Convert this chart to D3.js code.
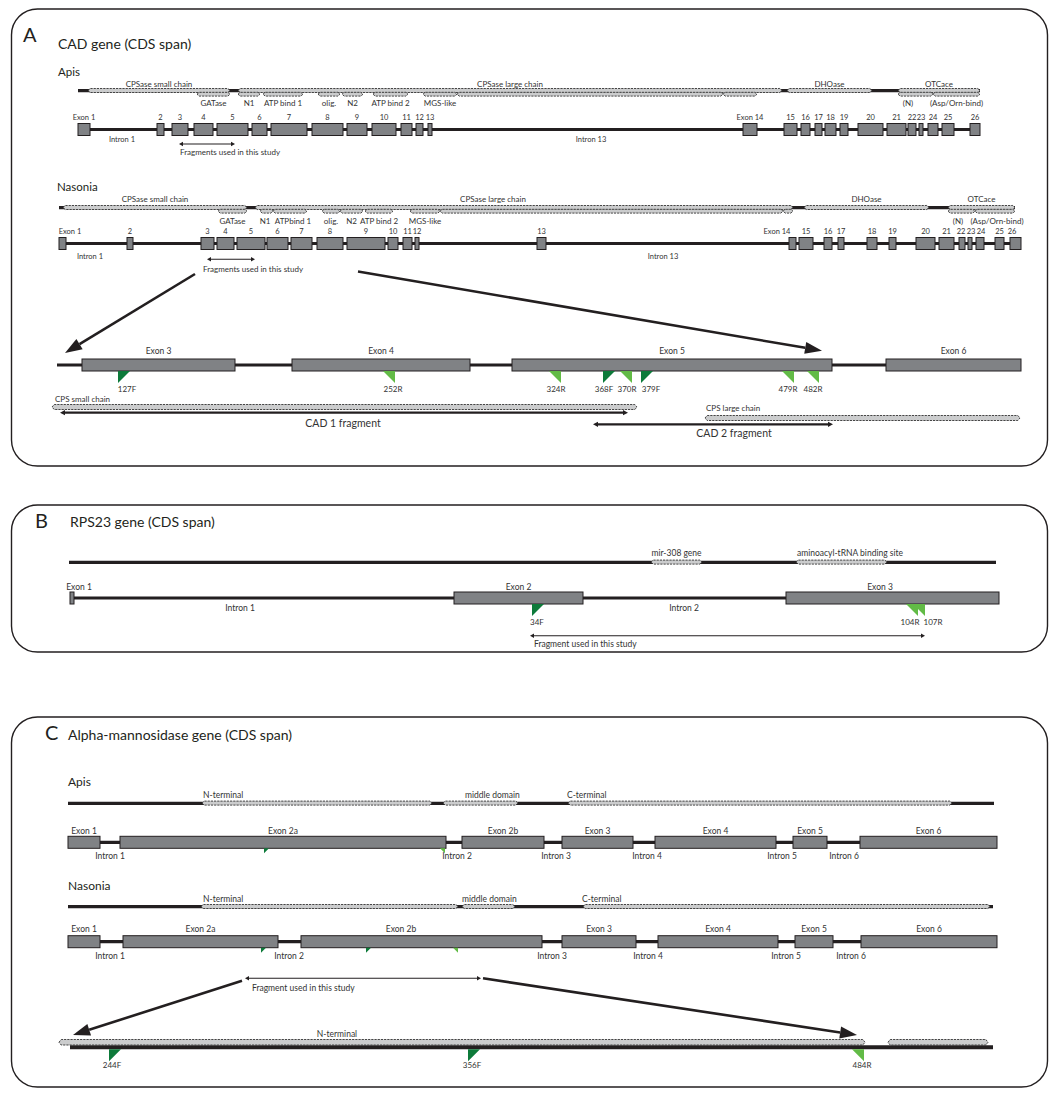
<!DOCTYPE html>
<html>
<head>
<meta charset="utf-8">
<script src="https://cdn.jsdelivr.net/npm/d3@7"></script>
<style>
body { margin: 0; background: #fff; }
svg { display: block; font-family: Lato, "Open Sans", sans-serif; }
</style>
</head>
<body>
<svg id="figura"></svg>
<script>
// all positions are in gene units (0-1000 across the figure)
const panelLetters = ["A", "B", "C"];
const panelTitles = ["CAD gene (CDS span)", "RPS23 gene (CDS span)", "Alpha-mannosidase gene (CDS span)"];
const species = ["Apis", "Nasonia"];
const fragmentText = "Fragments used in this study";
const fragmentTextSingle = "Fragment used in this study";

// A - CAD, Apis
const cadApisSpan = [38, 940];
const cadApisDomains = [["CPSase small chain", 48, 190], ["CPSase large chain", 198, 742], ["DHOase", 747, 832], ["OTCace", 858, 940]];
const cadApisSubdomains = [["GATase", 157, 190], ["N1", 198, 220], ["ATP bind 1", 223, 263], ["olig.", 278, 300], ["N2", 302, 323],
    ["ATP bind 2", 333, 368], ["MGS-like", 383, 417], ["", 417, 683], ["", 683, 717], ["(N)", 858, 893, 868], ["(Asp/Orn-bind)", 893, 940]];
const cadApisExons = [["Exon 1", 38, 50], ["2", 117, 124], ["3", 132, 148], ["4", 154, 173], ["5", 177, 208], ["6", 212, 227],
    ["7", 231, 267], ["8", 272, 303], ["9", 307, 327], ["10", 332, 356], ["11", 361, 372], ["12", 376, 383], ["13", 388, 392],
    ["Exon 14", 703, 717], ["15", 744, 757], ["16", 761, 770], ["17", 775, 782], ["18", 785, 796], ["19", 800, 808],
    ["20", 818, 843], ["21", 847, 866], ["22", 868, 876], ["23", 879, 883], ["24", 888, 898], ["25", 902, 914], ["26", 930, 940]];
const cadApisIntrons = [["Intron 1", 82], ["Intron 13", 551]];
const cadApisFragment = [139, 195, 140];

// A - CAD, Nasonia
const cadNasDomainSpan = [19, 975];
const cadNasSpan = [19, 981];
const cadNasDomains = [["CPSase small chain", 23, 207], ["CPSase large chain", 215, 753, 453], ["DHOase", 764, 889], ["OTCace", 908, 975]];
const cadNasSubdomains = [["GATase", 178, 207], ["N1", 220, 233, 225], ["ATPbind 1", 233, 267, 253], ["olig.", 282, 300], ["N2", 300, 323],
    ["ATP bind 2", 325, 353], ["MGS-like", 370, 400], ["", 400, 743], ["", 743, 753], ["(N)", 908, 935, 918], ["(Asp/Orn-bind)", 935, 975, 957]];
const cadNasExons = [["Exon 1", 19, 26, 30], ["2", 87, 93], ["3", 161, 174], ["4", 177, 194], ["5", 197, 225], ["6", 227, 248],
    ["7", 251, 272], ["8", 277, 303], ["9", 307, 345], ["10", 348, 358], ["11", 363, 372], ["12", 375, 379], ["13", 497, 506],
    ["Exon 14", 749, 756, 737], ["15", 759, 773], ["16", 784, 792], ["17", 798, 804], ["18", 827, 837], ["19", 849, 856],
    ["20", 876, 895], ["21", 899, 914], ["22", 919, 925, 921], ["23", 928, 932, 931], ["24", 936, 944, 941], ["25", 955, 964], ["26", 970, 981, 972]];
const cadNasIntrons = [["Intron 1", 50], ["Intron 13", 623]];
const cadNasFragment = [167, 215, 163];

// A - CAD, zoomed fragment
const cadDetailSpan = [17, 981];
const cadDetailExons = [["Exon 3", 42, 195], ["Exon 4", 252, 430], ["Exon 5", 472, 792], ["Exon 6", 846, 981]];
const cadPrimers = [["127F", 78, "F", 87], ["252R", 355, "R", 353], ["324R", 521, "R", 516], ["368F", 563, "F", 564],
    ["370R", 592, "R", 587], ["379F", 601, "F", 611], ["479R", 754, "R", 748], ["482R", 779, "R", 773]];
const cadProteinParts = [["CPS small chain", 12, 597, 15], ["CPS large chain", 665, 980, 666]];
const cadFragments = [["CAD 1 fragment", 20, 588, 303], ["CAD 2 fragment", 553, 793, 694]];
const cadZoomArrows = [[155, 25], [318, 782]];

// B - RPS23
const rpsDomainSpan = [29, 956];
const rpsDomains = [["mir-308 gene", 611, 662], ["aminoacyl-tRNA binding site", 756, 847, 810]];
const rpsExonSpan = [30, 959];
const rpsExons = [["Exon 1", 30, 34, 39], ["Exon 2", 414, 543], ["Exon 3", 746, 959, 840]];
const rpsIntrons = [["Intron 1", 200], ["Intron 2", 644]];
const rpsPrimers = [["107R", 885, "R", 893], ["104R", 878, "R", 870], ["34F", 492, "F", 497]];
const rpsFragment = [490, 885, 494];

// C - alpha-mannosidase, Apis
const manApisDomainSpan = [28, 954];
const manApisDomains = [["N-terminal", 162, 392, 163], ["middle domain", 403, 478, 425], ["C-terminal", 528, 912, 527]];
const manApisSpan = [28, 957];
const manApisExons = [["Exon 1", 28, 60], ["Exon 2a", 80, 406], ["Exon 2b", 422, 504], ["Exon 3", 522, 593],
    ["Exon 4", 615, 736], ["Exon 5", 753, 787], ["Exon 6", 820, 957]];
const manApisIntrons = [["Intron 1", 70], ["Intron 2", 417], ["Intron 3", 516], ["Intron 4", 607], ["Intron 5", 742], ["Intron 6", 804]];
const manApisPrimers = [["", 224, "F"], ["", 405, "R"]];

// C - alpha-mannosidase, Nasonia
const manNasDomainSpan = [28, 953];
const manNasDomains = [["N-terminal", 161, 418, 163], ["middle domain", 422, 475, 422], ["C-terminal", 543, 950, 542]];
const manNasSpan = [28, 957];
const manNasExons = [["Exon 1", 28, 60], ["Exon 2a", 83, 238], ["Exon 2b", 261, 502, 361], ["Exon 3", 522, 596],
    ["Exon 4", 618, 738], ["Exon 5", 755, 793], ["Exon 6", 821, 957]];
const manNasIntrons = [["Intron 1", 70], ["Intron 2", 249], ["Intron 3", 512], ["Intron 4", 608], ["Intron 5", 746], ["Intron 6", 811]];
const manNasPrimers = [["", 221, "F"], ["", 326, "F"], ["", 418, "R"]];
const manNasFragment = [205, 441, 212];
const manZoomArrows = [[202, 33], [443, 817]];

// C - zoomed fragment
const manDetailSpan = [30, 953];
const manDetailDomains = [["N-terminal", 19, 825, 297], ["", 848, 948]];
const manDetailPrimers = [["244F", 69, "F", 72], ["356F", 428, "F", 432], ["484R", 824, "R", 822]];

const largura = 1058, altura = 1099;
const tinta = "#231f20", corTexto = "#333333";
const cinzaExon = "#808285", cinzaDom = "#cbcccd", traco = "#333333";
const verdeEscuro = "#0d7a3a", verdeClaro = "#62bb46";

let svg = d3.select("#figura")
    .attr("width", largura)
    .attr("height", altura);

let fnX = d3.scaleLinear()
    .domain([0, 1000])
    .range([40, 1040]);

function hexagono(x0, x1, yTop, h) {
    let p = Math.min(2.2, (x1 - x0) / 4);
    return `M${x0},${yTop + h / 2}L${x0 + p},${yTop}L${x1 - p},${yTop}L${x1},${yTop + h / 2}` +
        `L${x1 - p},${yTop + h}L${x0 + p},${yTop + h}Z`;
}

function texto(g, t, x, y, tam, anchor, cor) {
    return g.append("text")
        .attr("x", x)
        .attr("y", y)
        .attr("font-size", tam)
        .attr("text-anchor", anchor || "start")
        .attr("fill", cor || corTexto)
        .text(t);
}

function linha(g, a, b, y, w) {
    g.append("line")
        .attr("x1", fnX(a)).attr("x2", fnX(b))
        .attr("y1", y).attr("y2", y)
        .attr("stroke", tinta)
        .attr("stroke-width", w);
}

function caixas(g, lista, yTop, h) {
    g.selectAll(null)
        .data(lista)
        .enter()
        .append("path")
        .attr("d", d => hexagono(fnX(d.ini), fnX(d.fim), yTop, h))
        .attr("fill", cinzaDom)
        .attr("stroke", traco)
        .attr("stroke-width", 0.9)
        .attr("stroke-dasharray", "2.2,1");
}

function rotulos(g, lista, y, tam, anchor) {
    g.selectAll(null)
        .data(lista.filter(d => d.nome))
        .enter()
        .append("text")
        .attr("x", d => fnX(d.rot !== undefined ? d.rot : (anchor === "start" ? d.ini : (d.ini + d.fim) / 2)))
        .attr("y", y)
        .attr("font-size", tam)
        .attr("text-anchor", anchor)
        .attr("fill", corTexto)
        .text(d => d.nome);
}

const comoIntervalo = d => ({ nome: d[0], ini: d[1], fim: d[2], rot: d[3] });

function trilhaDominios(g, p) {
    linha(g, p.span[0], p.span[1], p.y, 3.2);
    let doms = p.dominios.map(comoIntervalo);
    caixas(g, doms, p.y - 2.2, 4);
    rotulos(g, doms, p.y + p.dyRot, p.fonte, p.anchor);
    if (p.sub) {
        let subs = p.sub.map(comoIntervalo);
        caixas(g, subs, p.y + 1.6, 3.8);
        rotulos(g, subs, p.y + p.dySub, p.fonte, "middle");
    }
}

function trilhaExons(g, p) {
    linha(g, p.span[0], p.span[1], p.y, p.espessura || 3.2);
    let exons = p.exons.map(comoIntervalo);
    g.selectAll(null)
        .data(exons)
        .enter()
        .append("rect")
        .attr("x", d => fnX(d.ini))
        .attr("y", p.y - 6)
        .attr("width", d => fnX(d.fim) - fnX(d.ini))
        .attr("height", 12)
        .attr("fill", cinzaExon)
        .attr("stroke", tinta)
        .attr("stroke-width", 1);
    rotulos(g, exons, p.y + p.dyRot, p.fonte, "middle");
    g.selectAll(null)
        .data(p.introns || [])
        .enter()
        .append("text")
        .attr("x", d => fnX(d[1]))
        .attr("y", p.y + p.dyIntron)
        .attr("font-size", p.fonte)
        .attr("text-anchor", "middle")
        .attr("fill", corTexto)
        .text(d => d[0]);
}

function primers(g, lista, yTop, tam, dyRot, fonte) {
    let dados = lista.map(d => ({ nome: d[0], pos: d[1], dir: d[2], rot: d[3] }));
    g.selectAll(null)
        .data(dados)
        .enter()
        .append("path")
        .attr("d", d => {
            let e = fnX(d.pos);
            return d.dir === "F"
                ? `M${e},${yTop}L${e + tam},${yTop}L${e},${yTop + tam}Z`
                : `M${e - tam},${yTop}L${e},${yTop}L${e},${yTop + tam}Z`;
        })
        .attr("fill", d => d.dir === "F" ? verdeEscuro : verdeClaro);
    g.selectAll(null)
        .data(dados.filter(d => d.nome))
        .enter()
        .append("text")
        .attr("x", d => fnX(d.rot))
        .attr("y", yTop + dyRot)
        .attr("font-size", fonte)
        .attr("text-anchor", "middle")
        .attr("fill", corTexto)
        .text(d => d.nome);
}

function ponta(g, xa, ya, xb, yb, comp, meia) {
    let dx = xb - xa, dy = yb - ya, len = Math.hypot(dx, dy);
    let ux = dx / len, uy = dy / len;
    let bx = xb - ux * comp, by = yb - uy * comp;
    g.append("path")
        .attr("d", `M${xb},${yb}L${bx - uy * meia},${by + ux * meia}L${bx + uy * meia},${by - ux * meia}Z`)
        .attr("fill", tinta);
    return [bx, by];
}

function setaDupla(g, a, b, y, w, comp, meia) {
    let x0 = fnX(a), x1 = fnX(b);
    g.append("line")
        .attr("x1", x0 + comp * 0.8).attr("x2", x1 - comp * 0.8)
        .attr("y1", y).attr("y2", y)
        .attr("stroke", tinta).attr("stroke-width", w);
    ponta(g, x1, y, x0, y, comp, meia);
    ponta(g, x0, y, x1, y, comp, meia);
}

function setaZoom(g, a, ya, b, yb) {
    let xa = fnX(a), xb = fnX(b);
    let base = ponta(g, xa, ya, xb, yb, 17, 6);
    g.append("line")
        .attr("x1", xa).attr("y1", ya)
        .attr("x2", base[0]).attr("y2", base[1])
        .attr("stroke", tinta).attr("stroke-width", 2.6);
}

// panel frames, letters and titles
const molduras = [[9, 466], [505, 652], [717, 1087]];
const posLetra = [[23, 42, 58, 49], [35, 528, 70, 527], [45, 740, 68, 740]];
molduras.forEach((m, i) => {
    svg.append("rect")
        .attr("x", 11.5).attr("y", m[0])
        .attr("width", 1036).attr("height", m[1] - m[0])
        .attr("rx", 26).attr("ry", 26)
        .attr("fill", "none")
        .attr("stroke", tinta)
        .attr("stroke-width", 1.4);
    texto(svg, panelLetters[i], posLetra[i][0], posLetra[i][1], 20, "start", tinta);
    texto(svg, panelTitles[i], posLetra[i][2], posLetra[i][3], 14, "start", tinta);
});

// ---- panel A
let pA = svg.append("g");
texto(pA, species[0], 58, 75.5, 11.5, "start", tinta);
trilhaDominios(pA, { span: cadApisSpan, dominios: cadApisDomains, sub: cadApisSubdomains, y: 90.7, dyRot: -3.4, dySub: 14.8, fonte: 8, anchor: "middle" });
trilhaExons(pA, { span: cadApisSpan, exons: cadApisExons, introns: cadApisIntrons, y: 129.5, dyRot: -9.5, dyIntron: 12, fonte: 7.5 });
setaDupla(pA, cadApisFragment[0], cadApisFragment[1], 144, 1.1, 4, 2.2);
texto(pA, fragmentText, fnX(cadApisFragment[2]), 155, 8);

texto(pA, species[1], 57, 190.5, 11.5, "start", tinta);
trilhaDominios(pA, { span: cadNasDomainSpan, dominios: cadNasDomains, sub: cadNasSubdomains, y: 207.7, dyRot: -6, dySub: 16, fonte: 8, anchor: "middle" });
trilhaExons(pA, { span: cadNasSpan, exons: cadNasExons, introns: cadNasIntrons, y: 243.5, dyRot: -9.5, dyIntron: 15.5, fonte: 7.5 });
setaDupla(pA, cadNasFragment[0], cadNasFragment[1], 259.3, 1.1, 4, 2.2);
texto(pA, fragmentText, fnX(cadNasFragment[2]), 272, 8);

setaZoom(pA, cadZoomArrows[0][0], 274, cadZoomArrows[0][1], 353);
setaZoom(pA, cadZoomArrows[1][0], 271.5, cadZoomArrows[1][1], 350.7);

trilhaExons(pA, { span: cadDetailSpan, exons: cadDetailExons, y: 365, dyRot: -11, dyIntron: 0, fonte: 8.5 });
primers(pA, cadPrimers, 371, 12, 20.5, 8);

let partes = cadProteinParts.map(comoIntervalo);
caixas(pA, [partes[0]], 404.5, 5);
caixas(pA, [partes[1]], 415.5, 5);
texto(pA, partes[0].nome, fnX(partes[0].rot), 401.5, 8);
texto(pA, partes[1].nome, fnX(partes[1].rot), 411, 8);
setaDupla(pA, cadFragments[0][1], cadFragments[0][2], 412.7, 2.2, 5, 2.6);
setaDupla(pA, cadFragments[1][1], cadFragments[1][2], 424.3, 2.2, 5, 2.6);
texto(pA, cadFragments[0][0], fnX(cadFragments[0][3]), 427, 10.5, "middle");
texto(pA, cadFragments[1][0], fnX(cadFragments[1][3]), 436.5, 10.5, "middle");

// ---- panel B
let pB = svg.append("g");
trilhaDominios(pB, { span: rpsDomainSpan, dominios: rpsDomains, y: 562.3, dyRot: -6.3, fonte: 8.5, anchor: "middle" });
trilhaExons(pB, { span: rpsExonSpan, exons: rpsExons, introns: rpsIntrons, y: 598, dyRot: -8, dyIntron: 12.5, fonte: 8.5, espessura: 3 });
primers(pB, rpsPrimers, 604, 12, 21, 8);
setaDupla(pB, rpsFragment[0], rpsFragment[1], 635.7, 1.1, 4, 2.2);
texto(pB, fragmentTextSingle, fnX(rpsFragment[2]), 646.5, 8.5);

// ---- panel C
let pC = svg.append("g");
texto(pC, species[0], 68, 786, 12, "start", tinta);
trilhaDominios(pC, { span: manApisDomainSpan, dominios: manApisDomains, y: 803.3, dyRot: -5.3, fonte: 8.5, anchor: "start" });
trilhaExons(pC, { span: manApisSpan, exons: manApisExons, introns: manApisIntrons, y: 842.3, dyRot: -8.3, dyIntron: 16.7, fonte: 8.5 });
primers(pC, manApisPrimers, 848.3, 5, 0, 8);

texto(pC, species[1], 68, 890, 12, "start", tinta);
trilhaDominios(pC, { span: manNasDomainSpan, dominios: manNasDomains, y: 906.7, dyRot: -4.5, fonte: 8.5, anchor: "start" });
trilhaExons(pC, { span: manNasSpan, exons: manNasExons, introns: manNasIntrons, y: 941.7, dyRot: -10.2, dyIntron: 17.3, fonte: 8.5 });
primers(pC, manNasPrimers, 947.7, 5, 0, 8);
setaDupla(pC, manNasFragment[0], manNasFragment[1], 978.3, 1.1, 4, 2.2);
texto(pC, fragmentTextSingle, fnX(manNasFragment[2]), 990.5, 8.5);

setaZoom(pC, manZoomArrows[0][0], 980.7, manZoomArrows[0][1], 1035);
setaZoom(pC, manZoomArrows[1][0], 978.3, manZoomArrows[1][1], 1035);

linha(pC, manDetailSpan[0], manDetailSpan[1], 1047.3, 4);
let domDet = manDetailDomains.map(comoIntervalo);
caixas(pC, domDet, 1039.5, 5.5);
rotulos(pC, domDet, 1037, 8.5, "middle");
primers(pC, manDetailPrimers, 1049.3, 12, 19, 8);
</script>
</body>
</html>
